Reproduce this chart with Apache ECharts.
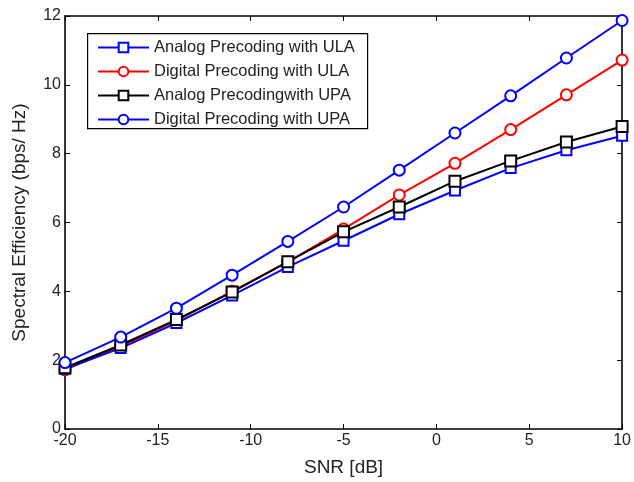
<!DOCTYPE html>
<html>
<head>
<meta charset="utf-8">
<script src="https://cdn.jsdelivr.net/npm/echarts@6/dist/echarts.min.js"></script>
<style>html,body{margin:0;padding:0;background:#fff}#c{width:634px;height:482px}</style>
</head>
<body>
<div id="c"></div>
<script>
const snr = [-20, -17, -14, -11, -8, -5, -2, 1, 4, 7, 10];
const analogULA = [1.75, 2.35, 3.08, 3.88, 4.71, 5.47, 6.24, 6.93, 7.58, 8.10, 8.52];
const digitalULA = [1.72, 2.40, 3.15, 4.00, 4.85, 5.81, 6.80, 7.72, 8.70, 9.71, 10.72];
const analogUPA = [1.78, 2.44, 3.18, 3.98, 4.86, 5.73, 6.45, 7.20, 7.79, 8.34, 8.79];
const digitalUPA = [1.93, 2.67, 3.51, 4.47, 5.45, 6.45, 7.52, 8.60, 9.68, 10.78, 11.87];
const seriesNames = ['Analog Precoding with ULA', 'Digital Precoding with ULA', 'Analog Precodingwith UPA', 'Digital Precoding with UPA'];
const xTicks = {min: -20, max: 10, interval: 5};
const yTicks = {min: 0, max: 12, interval: 2};

const font = '"Liberation Sans", Arial, Helvetica, sans-serif';
const pair = (arr) => snr.map((x, i) => [x, arr[i]]);
const mk = (name, data, color, symbol, size, z) => ({
  name, type: 'line', data: pair(data), symbol, symbolSize: size,
  lineStyle: {color, width: 2}, itemStyle: {color, borderColor: color, borderWidth: 2},
  showAllSymbol: true, z
});
const axisCommon = () => ({
  axisLine: {show: true, onZero: false, lineStyle: {color: '#000', width: 1.6}},
  axisTick: {show: true, inside: true, length: 5, lineStyle: {color: '#000'}},
  splitLine: {show: false}
});
const chart = echarts.init(document.getElementById('c'));
chart.setOption({
  animation: false,
  backgroundColor: '#fff',
  textStyle: {fontFamily: font},
  grid: {left: 65, right: 9, top: 16, bottom: 48},
  xAxis: [
    Object.assign({type: 'value', position: 'bottom', min: xTicks.min, max: xTicks.max, interval: xTicks.interval,
      name: 'SNR [dB]', nameLocation: 'middle', nameGap: 29,
      nameTextStyle: {fontSize: 19, color: '#222', fontFamily: font},
      axisLabel: {fontSize: 16, color: '#222', margin: 4, fontFamily: font}}, axisCommon()),
    Object.assign({type: 'value', position: 'top', min: xTicks.min, max: xTicks.max, interval: xTicks.interval,
      axisLabel: {show: false}}, axisCommon())
  ],
  yAxis: [
    Object.assign({type: 'value', position: 'left', min: yTicks.min, max: yTicks.max, interval: yTicks.interval,
      name: 'Spectral Efficiency (bps/ Hz)', nameLocation: 'middle', nameGap: 36,
      nameTextStyle: {fontSize: 19, color: '#222', fontFamily: font},
      axisLabel: {fontSize: 16, color: '#222', margin: 4, fontFamily: font}}, axisCommon()),
    Object.assign({type: 'value', position: 'right', min: yTicks.min, max: yTicks.max, interval: yTicks.interval,
      axisLabel: {show: false}}, axisCommon())
  ],
  legend: {
    orient: 'vertical', left: 92, top: 34, itemWidth: 51, itemHeight: 12, itemGap: 7,
    data: seriesNames,
    textStyle: {fontSize: 16.5, color: '#222', fontFamily: font}
  },
  graphic: [{type: 'rect', left: 87, top: 33, shape: {width: 280, height: 95},
    style: {fill: '#fff', stroke: '#000', lineWidth: 1.2}, z: 0, zlevel: 0}],
  series: [
    mk(seriesNames[0], analogULA, '#0000ff', 'emptyRect', 10, 3),
    mk(seriesNames[1], digitalULA, '#ff0000', 'emptyCircle', 11, 2),
    mk(seriesNames[2], analogUPA, '#000000', 'emptyRect', 11, 4),
    mk(seriesNames[3], digitalUPA, '#0000ff', 'emptyCircle', 11, 5)
  ]
});
</script>
</body>
</html>
